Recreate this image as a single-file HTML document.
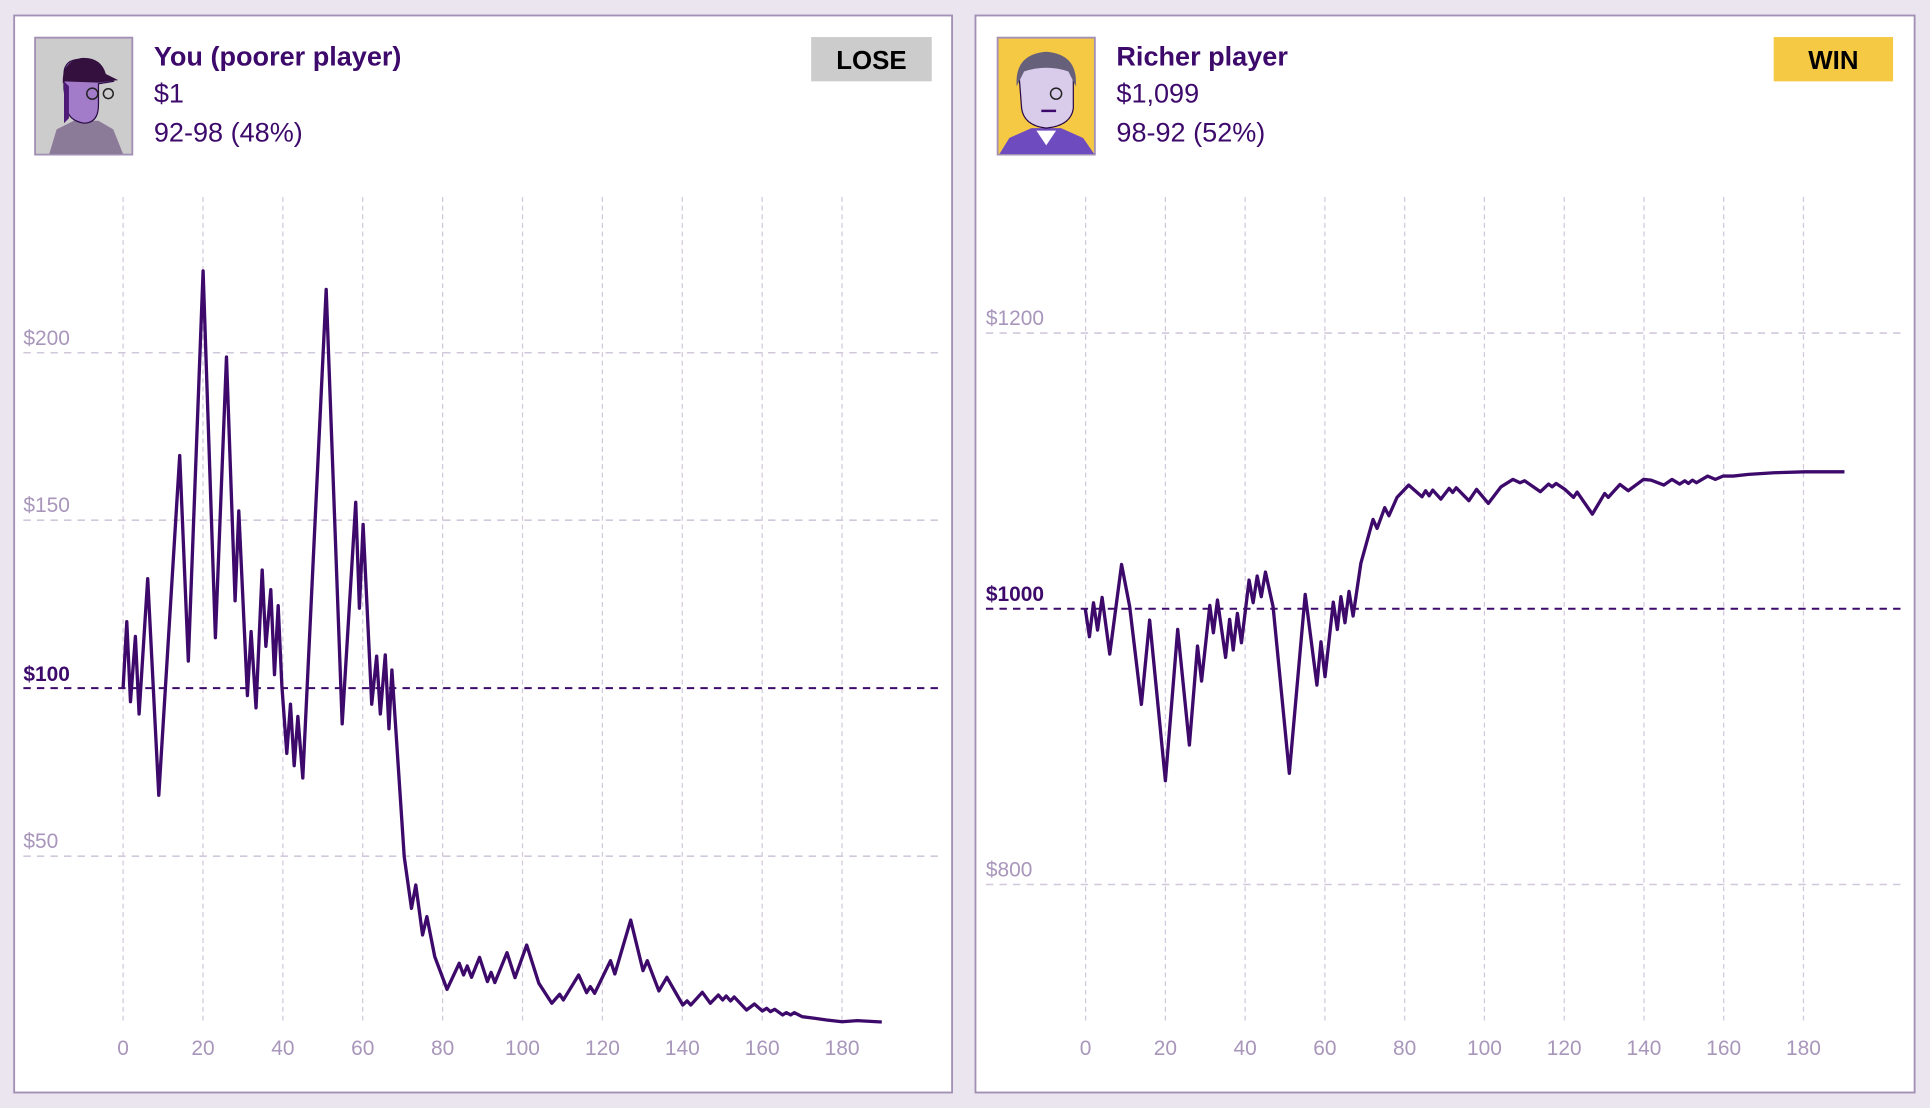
<!DOCTYPE html>
<html><head><meta charset="utf-8"><style>
html,body{margin:0;padding:0;background:#ebe5f0;}
svg{display:block;}
text{font-family:"Liberation Sans",sans-serif;}
</style></head><body>
<svg width="1930" height="1108" viewBox="0 0 1568 900" xmlns="http://www.w3.org/2000/svg">
<rect x="0" y="0" width="1568" height="900" fill="#ebe5f0"/>
<!-- panels -->
<rect x="11.5" y="12.5" width="762" height="875" fill="#fff" stroke="#a390b5" stroke-width="1.5"/>
<rect x="792.5" y="12.5" width="763" height="875" fill="#fff" stroke="#a390b5" stroke-width="1.5"/>

<!-- LEFT header -->
<rect x="28.5" y="30.5" width="79" height="95" fill="#cccccc" stroke="#a390b5" stroke-width="1.5"/>
<path d="M40 125 L46 105 L60 98 L80 98 L92 105 L100 125 Z" fill="#8c7a99"/>
<path d="M52 60 Q52 48 66 48 Q82 48 85 60 L92 66 L80 68 L80 85 Q80 100 68 100 Q56 98 54 88 L52 72 Z" fill="#a27bc9" stroke="#2a0b45" stroke-width="1"/>
<path d="M51 68 Q50 50 66 47 Q82 46 86 60 L96 65 L80 67 L52 66 Z" fill="#34103f"/>
<path d="M52 66 L52 100 L56 96 L56 70 Z" fill="#4e1a78"/>
<circle cx="75" cy="76" r="4.5" fill="none" stroke="#222" stroke-width="1.2"/>
<circle cx="88" cy="76" r="4" fill="none" stroke="#222" stroke-width="1.2"/>
<text x="125" y="53" font-size="22" font-weight="bold" fill="#3d0a6b">You (poorer player)</text>
<text x="125" y="83" font-size="22" fill="#3d0a6b">$1</text>
<text x="125" y="115" font-size="22" fill="#3d0a6b">92-98 (48%)</text>
<rect x="659" y="30" width="98" height="36" fill="#cccccc"/>
<text x="708" y="56" font-size="21" font-weight="bold" fill="#000" text-anchor="middle">LOSE</text>

<!-- RIGHT header -->
<rect x="810.5" y="30.5" width="79" height="95" fill="#f6c945" stroke="#a390b5" stroke-width="1.5"/>
<path d="M812 125 L820 112 L838 104 L862 104 L880 112 L889 125 Z" fill="#6e4bbf"/>
<path d="M842 106 L850 118 L858 106 Z" fill="#fff"/>
<path d="M828 62 Q828 46 848 46 Q870 46 872 62 L872 88 Q870 102 850 104 Q832 102 830 88 Z" fill="#d8ccea" stroke="#2a0b45" stroke-width="1"/>
<path d="M826 70 Q824 44 850 42 Q876 44 874 70 L868 58 Q850 52 832 58 Z" fill="#66607a"/>
<circle cx="858" cy="76" r="4.5" fill="none" stroke="#222" stroke-width="1.2"/>
<path d="M846 90 L858 90" stroke="#3d0a6b" stroke-width="2"/>
<text x="907" y="53" font-size="22" font-weight="bold" fill="#3d0a6b">Richer player</text>
<text x="907" y="83" font-size="22" fill="#3d0a6b">$1,099</text>
<text x="907" y="115" font-size="22" fill="#3d0a6b">98-92 (52%)</text>
<rect x="1441" y="30" width="97" height="36" fill="#f6c945"/>
<text x="1489.5" y="56" font-size="21" font-weight="bold" fill="#000" text-anchor="middle">WIN</text>

<!-- LEFT grid -->
<g stroke="#d2c8dc" stroke-width="1" stroke-dasharray="4 3">
<line x1="100" y1="160" x2="100" y2="830"/><line x1="164.9" y1="160" x2="164.9" y2="830"/>
<line x1="229.8" y1="160" x2="229.8" y2="830"/><line x1="294.7" y1="160" x2="294.7" y2="830"/>
<line x1="359.6" y1="160" x2="359.6" y2="830"/><line x1="424.5" y1="160" x2="424.5" y2="830"/>
<line x1="489.4" y1="160" x2="489.4" y2="830"/><line x1="554.3" y1="160" x2="554.3" y2="830"/>
<line x1="619.2" y1="160" x2="619.2" y2="830"/><line x1="684.1" y1="160" x2="684.1" y2="830"/>
</g>
<g stroke="#d2c8dc" stroke-width="1.3" stroke-dasharray="6 5">
<line x1="19" y1="286.5" x2="767" y2="286.5"/>
<line x1="19" y1="422.5" x2="767" y2="422.5"/>
<line x1="19" y1="695.5" x2="767" y2="695.5"/>
</g>
<line x1="19" y1="559" x2="767" y2="559" stroke="#3d0a6b" stroke-width="1.6" stroke-dasharray="6 5"/>
<g font-size="17" fill="#a896bb">
<text x="19" y="280">$200</text><text x="19" y="416">$150</text><text x="19" y="689">$50</text>
</g>
<text x="19" y="553" font-size="17" font-weight="bold" fill="#3d0a6b">$100</text>
<g font-size="17" fill="#a896bb" text-anchor="middle">
<text x="100" y="857">0</text><text x="164.9" y="857">20</text><text x="229.8" y="857">40</text>
<text x="294.7" y="857">60</text><text x="359.6" y="857">80</text><text x="424.5" y="857">100</text>
<text x="489.4" y="857">120</text><text x="554.3" y="857">140</text><text x="619.2" y="857">160</text>
<text x="684.1" y="857">180</text>
</g>
<polyline fill="none" stroke="#3d0a6b" stroke-width="2.7" stroke-linejoin="round" points="
100,559 103,505 106,570 110,517 113,580 120,470 129,646 146,370 153,537 165,220 175,518 184,290 191,488 194,415 201,565 204,513 208,575 213,463 216,525 220,479 223,548 226,492 229,557 233,612 236,572 239,622 242,582 246,632 265,235 278,588 289,408 292,494 295,426 302,572 306,533 309,580 313,532 316,592 318.4,544.3
328.4,695.9 334.3,737.9 337.8,718.9 343.3,759.5 346.8,744.6 353.2,777.1 363.2,803.7 373.1,782.5 376.6,792 379.6,784.7 383.1,793.9 389.6,777.7 396,797.4 399,789.9 402,798.2 411.9,773.9 418.4,794.2 427.9,767.7 437.8,798.8 448.3,815 454.7,807.7 457.7,812.3 470.1,792 476.6,806.4 479.6,801.5 483.1,806.9 496,780.4 499.5,791.2 512.4,747.4 522.4,788.5 525.9,780.4 535.3,805 541.8,793.9 554.7,816.4 558.2,813.1 561.2,816.4 570.6,806.1 577.1,815 583.6,808.3 587.1,812.3 590,809.1 593.5,813.1 596.5,809.9 606.5,820.5 612.9,815.6 619.4,821.3 622.9,819.1 625.9,821.8 629.4,819.9 635.8,824.5 638.8,822.6 642.3,824.5 645.3,822.6 651.7,825.9 661.7,827.2 671.6,828.6 684.1,830 696.5,829.1 716.4,830.2"/>

<!-- RIGHT grid -->
<g stroke="#d2c8dc" stroke-width="1" stroke-dasharray="4 3">
<line x1="882" y1="160" x2="882" y2="830"/><line x1="946.8" y1="160" x2="946.8" y2="830"/>
<line x1="1011.6" y1="160" x2="1011.6" y2="830"/><line x1="1076.4" y1="160" x2="1076.4" y2="830"/>
<line x1="1141.2" y1="160" x2="1141.2" y2="830"/><line x1="1206" y1="160" x2="1206" y2="830"/>
<line x1="1270.8" y1="160" x2="1270.8" y2="830"/><line x1="1335.6" y1="160" x2="1335.6" y2="830"/>
<line x1="1400.4" y1="160" x2="1400.4" y2="830"/><line x1="1465.2" y1="160" x2="1465.2" y2="830"/>
</g>
<g stroke="#d2c8dc" stroke-width="1.3" stroke-dasharray="6 5">
<line x1="801" y1="270.5" x2="1548" y2="270.5"/>
<line x1="801" y1="718.5" x2="1548" y2="718.5"/>
</g>
<line x1="801" y1="494.5" x2="1548" y2="494.5" stroke="#3d0a6b" stroke-width="1.6" stroke-dasharray="6 5"/>
<g font-size="17" fill="#a896bb">
<text x="801" y="264">$1200</text><text x="801" y="712">$800</text>
</g>
<text x="801" y="488" font-size="17" font-weight="bold" fill="#3d0a6b">$1000</text>
<g font-size="17" fill="#a896bb" text-anchor="middle">
<text x="882" y="857">0</text><text x="946.8" y="857">20</text><text x="1011.6" y="857">40</text>
<text x="1076.4" y="857">60</text><text x="1141.2" y="857">80</text><text x="1206" y="857">100</text>
<text x="1270.8" y="857">120</text><text x="1335.6" y="857">140</text><text x="1400.4" y="857">160</text>
<text x="1465.2" y="857">180</text>
</g>
<polyline fill="none" stroke="#3d0a6b" stroke-width="2.7" stroke-linejoin="round" points="
881.7,494.5 885.1,517.2 888.4,489.6 891.7,511.8 895.4,485.3 901.6,531.3 911.2,458.5 917.8,492.8 927.3,572.2 934,503.7 946.8,634.2 956.8,511.3 966.3,605.2 972.9,524.8 976.2,553.2 982.9,491.8 985.8,514 989.1,487.4 995.7,534 999,503.1 1001.9,528 1005.3,498.3 1008.6,522.1 1014.8,471.2 1018.1,489.6 1021.4,467.9 1024.7,484.7 1028.1,464.7 1034.3,492.8 1047.5,628.2 1060.4,482.8 1069.9,556.5 1073.2,521.3 1076.5,549.7 1083.2,489.1 1086.5,511.3 1089.4,484.7 1092.7,505.8 1096,480.4 1099.3,500.4 1105.6,457.6 1115.5,421.9 1118.8,429.2 1125,412.4 1128.4,418.9 1135,404 1144.5,394 1155.3,403.5 1158.2,398.6 1161.1,402.7 1164,398.1 1170.6,405.4 1177.3,396.7 1180.2,400 1183.1,396.2 1193.4,406.7 1199.6,397.5 1209.2,408.9 1219.5,395.4 1229.1,389.4 1234.9,392.1 1238.6,390.5 1251.5,399.4 1258.1,393.2 1261,395.4 1264.3,392.7 1271.4,397.5 1278.4,404 1281.3,399.7 1293.7,417.6 1303.7,400.8 1306.6,404 1316.1,393.5 1322.8,398.6 1335.2,389.4 1341.4,390 1351.8,394 1358.4,389.4 1364.6,393.2 1368.8,390.5 1371.7,392.7 1375,390 1378.3,392.1 1387.4,386.7 1393.6,389.4 1399.8,386.7 1408.1,386.7 1420.6,385.3 1441.3,384 1466.2,383.2 1498.5,383.2"/>
</svg>
</body></html>
